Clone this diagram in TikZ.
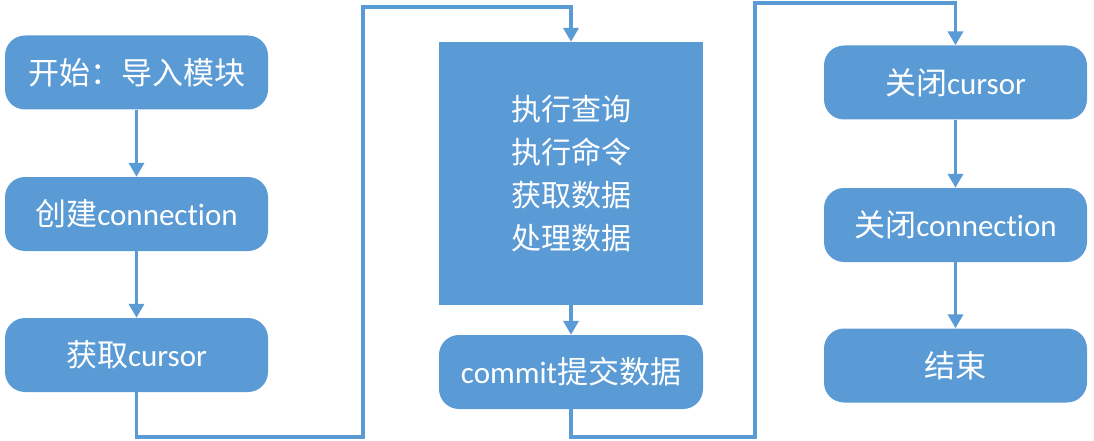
\documentclass[tikz,border=0pt]{standalone}
\usepackage{fontspec}
\setmainfont{Carlito}[Ligatures={NoCommon}]
\newfontfamily\cjk{Noto Sans CJK SC}
\usetikzlibrary{arrows.meta}
\definecolor{boxblue}{RGB}{91,155,213}

\begin{document}
\begin{tikzpicture}[x=1pt, y=-1pt,
    every node/.style={font=\fontsize{31}{43}\selectfont, text=white},
    stepbox/.style={fill=boxblue, rounded corners=20pt, minimum width=263pt,
      minimum height=74pt, inner sep=0pt},
    blockbox/.style={fill=boxblue, minimum width=264pt, minimum height=263pt,
      inner sep=0pt, align=center, font=\cjk\fontsize{30}{43}\selectfont},
    flow/.style={boxblue, line width=3.6pt, -{Triangle[width=15pt,length=14pt]}}]

    \useasboundingbox (0,0) rectangle (1094,441);

    %% Left column
    \node[stepbox] (start) at (136.5,72.5) {{\cjk 开始：导入模块}};
    \node[stepbox] (conn)  at (136.5,214)  {{\cjk 创建}connection};
    \node[stepbox] (cur)   at (136.5,355)  {{\cjk 获取}cursor};

    %% Middle column
    \node[blockbox] (work) at (571,173.5)
      {执行查询\\执行命令\\获取数据\\处理数据};
    \node[stepbox, minimum width=264pt] (commit) at (571,372)
      {commit{\cjk 提交数据}};

    %% Right column
    \node[stepbox] (closecur)  at (955.5,82.5) {{\cjk 关闭}cursor};
    \node[stepbox] (closeconn) at (955.5,225)  {{\cjk 关闭}connection};
    \node[stepbox] (finish)    at (955.5,365.5) {{\cjk 结束}};

    %% Turning points of the long connectors
    \coordinate (lowA) at (363,437);
    \coordinate (topA) at (363,7);
    \coordinate (lowB) at (755,437);
    \coordinate (topB) at (755,3);

    %% Connectors
    \draw[flow] (start) -- (conn);
    \draw[flow] (conn) -- (cur);
    \draw[flow] (cur.south) |- (lowA) -- (topA) -| (work.north);
    \draw[flow] (work) -- (commit);
    \draw[flow] (commit.south) |- (lowB) -- (topB) -| (closecur.north);
    \draw[flow] (closecur) -- (closeconn);
    \draw[flow] (closeconn) -- (finish);

\end{tikzpicture}
\end{document}
